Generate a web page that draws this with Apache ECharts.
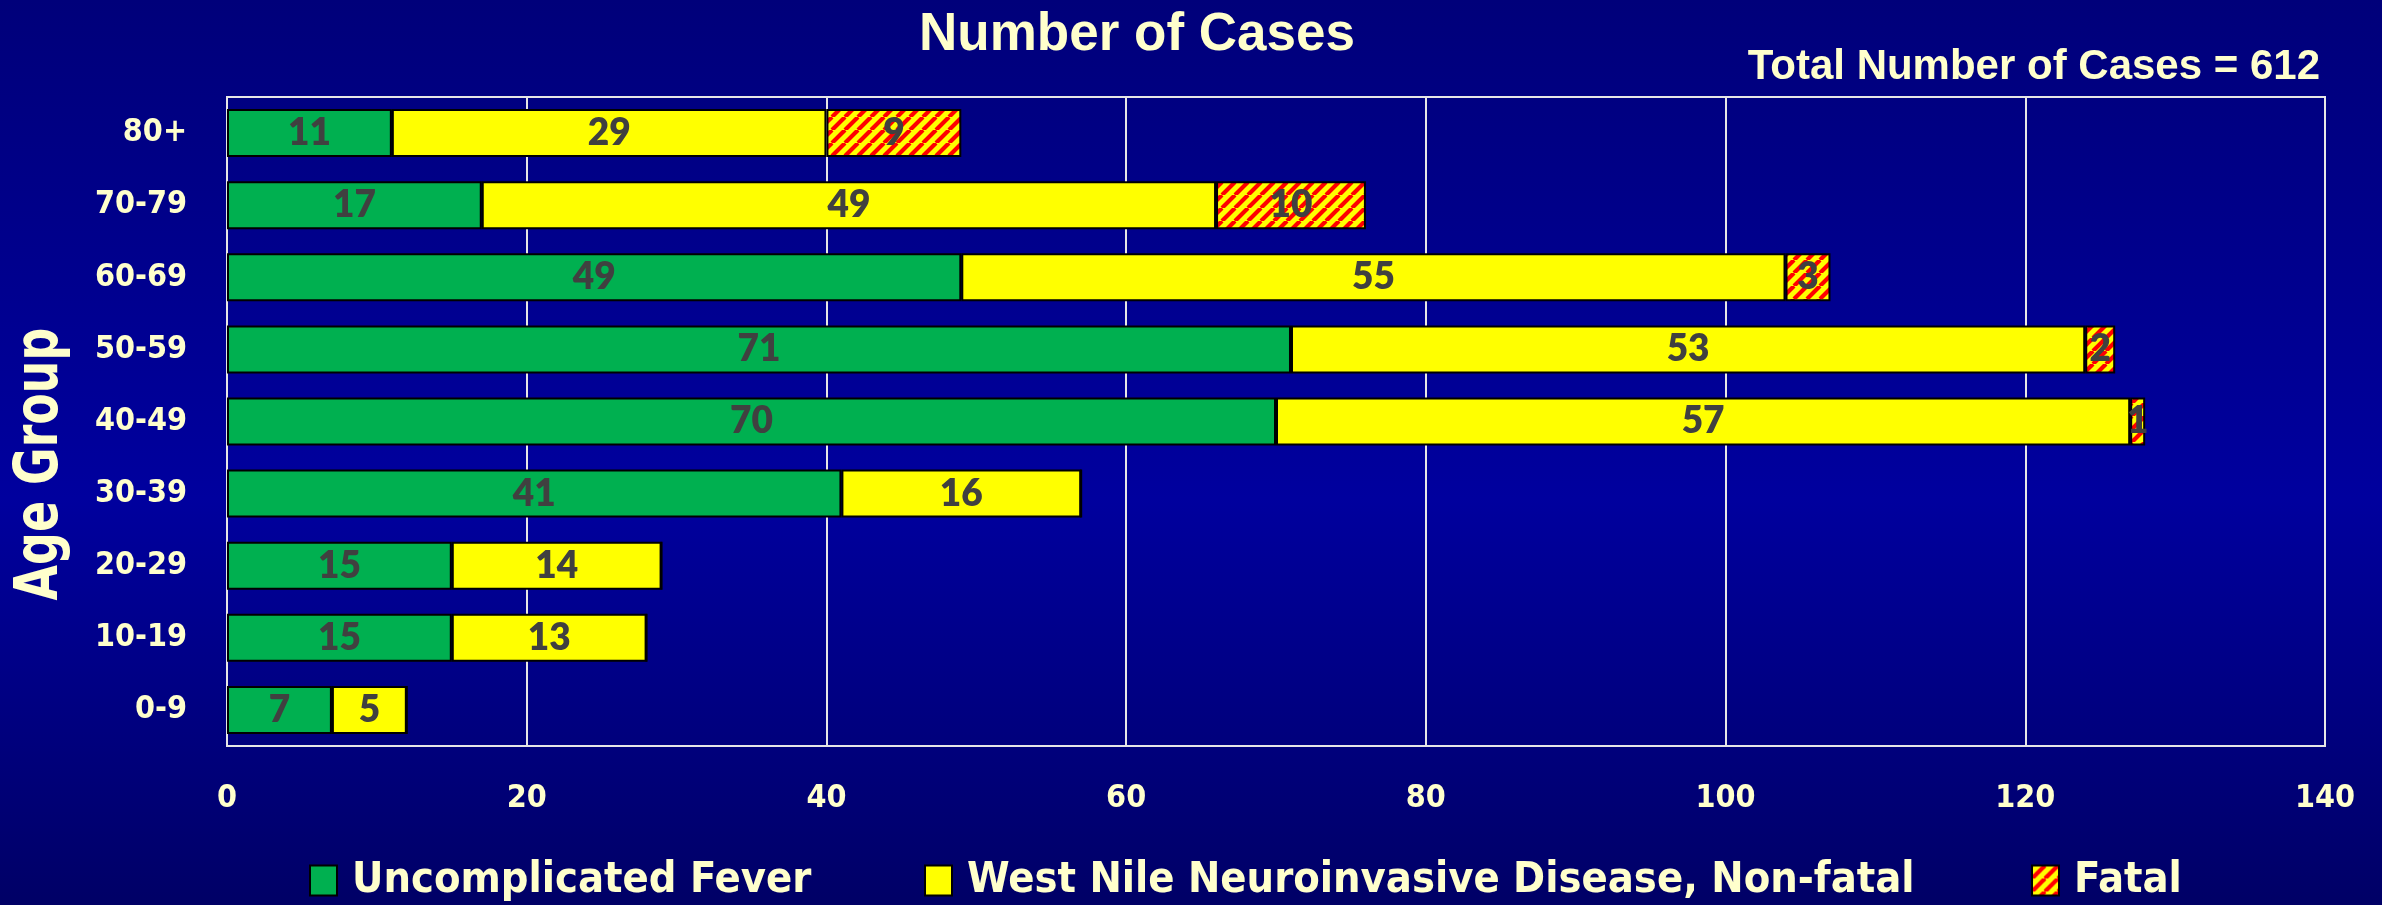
<!DOCTYPE html>
<html>
<head>
<meta charset="utf-8">
<script src="https://cdn.jsdelivr.net/npm/echarts@6/dist/echarts.min.js"></script>
<style>
html,body{margin:0;padding:0;background:#000080;}
#chart{width:2382px;height:905px;}
</style>
</head>
<body>
<div id="chart"></div>
<script>
// ---- data ----
const ageGroups = ['0-9','10-19','20-29','30-39','40-49','50-59','60-69','70-79','80+'];
const uncomplicatedFever = [7, 15, 15, 41, 70, 71, 49, 17, 11];
const wnndNonFatal = [5, 13, 14, 16, 57, 53, 55, 49, 29];
const fatal = [0, 0, 0, 0, 1, 2, 3, 10, 9];
const xTicks = [0, 20, 40, 60, 80, 100, 120, 140];
const seriesNames = ['Uncomplicated Fever', 'West Nile Neuroinvasive Disease, Non-fatal', 'Fatal'];
const titleText = 'Number of Cases';
const totalText = 'Total Number of Cases = 612';
const yAxisTitle = 'Age Group';

// ---- hatch pattern for Fatal ----
function makeHatch() {
  const s = 13;
  const c = document.createElement('canvas');
  c.width = s; c.height = s;
  const g = c.getContext('2d');
  g.fillStyle = '#ffff00';
  g.fillRect(0, 0, s, s);
  g.strokeStyle = '#ff0000';
  g.lineWidth = 4.2;
  g.beginPath();
  for (let k = -1; k <= 1; k++) {
    g.moveTo(k * s, s);
    g.lineTo(k * s + s, 0);
  }
  g.stroke();
  return c;
}
const hatch = { image: makeHatch(), repeat: 'repeat' };

const TXT = '#ffffcc';
const AXF = '"DejaVu Sans Condensed", "DejaVu Sans", sans-serif';
const labelStyle = {
  show: true,
  position: 'inside',
  fontFamily: 'Lato, "Open Sans", sans-serif',
  fontWeight: 800,
  fontSize: 37,
  color: '#404040',
  formatter: p => (p.value ? String(p.value) : '')
};
const barBorder = { borderColor: '#000000', borderWidth: 2 };

const chart = echarts.init(document.getElementById('chart'), null, { renderer: 'canvas' });

const legendCommon = {
  orient: 'horizontal',
  top: 854,
  itemWidth: 27,
  itemHeight: 30,
  icon: 'rect',
  textStyle: { color: TXT, fontFamily: AXF, fontWeight: 'bold', fontSize: 43, padding: [0, 0, 0, 10] },
  selectedMode: false
};

chart.setOption({
  backgroundColor: {
    type: 'linear', x: 0, y: 0, x2: 0, y2: 1,
    colorStops: [
      { offset: 0, color: '#00007a' },
      { offset: 0.55, color: '#00009e' },
      { offset: 1, color: '#000066' }
    ]
  },
  animation: false,
  title: [
    {
      text: titleText,
      left: 1132,
      textAlign: 'center',
      top: 4,
      textStyle: { color: TXT, fontFamily: '"Liberation Sans", Arial, sans-serif', fontWeight: 'bold', fontSize: 53 }
    },
    {
      text: totalText,
      right: 57,
      top: 41,
      textStyle: { color: TXT, fontFamily: '"Liberation Sans", Arial, sans-serif', fontWeight: 'bold', fontSize: 42 }
    }
  ],
  legend: [
    Object.assign({}, legendCommon, { left: 304, data: [seriesNames[0]] }),
    Object.assign({}, legendCommon, { left: 919, data: [seriesNames[1]] }),
    Object.assign({}, legendCommon, { left: 2026, data: [seriesNames[2]] })
  ],
  grid: {
    left: 227, right: 57, top: 97, bottom: 159,
    show: true,
    borderColor: '#e6e6e6',
    borderWidth: 2,
    backgroundColor: 'transparent'
  },
  xAxis: {
    type: 'value',
    min: xTicks[0],
    max: xTicks[xTicks.length - 1],
    interval: xTicks[1] - xTicks[0],
    axisLine: { show: false },
    axisTick: { show: false },
    splitLine: { show: true, lineStyle: { color: '#e6e6e6', width: 2 } },
    axisLabel: { color: TXT, fontFamily: AXF, fontWeight: 'bold', fontSize: 32, margin: 37 }
  },
  yAxis: {
    type: 'category',
    data: ageGroups,
    axisLine: { show: false },
    axisTick: { show: false },
    splitLine: { show: false },
    axisLabel: { color: TXT, fontFamily: AXF, fontWeight: 'bold', fontSize: 32, margin: 40 }
  },
  graphic: [
    {
      type: 'text',
      x: 41,
      y: 464,
      rotation: Math.PI / 2,
      scaleX: 0.85,
      style: {
        text: yAxisTitle,
        fill: TXT,
        font: 'bold 60px "DejaVu Sans Condensed", "DejaVu Sans", sans-serif',
        align: 'center',
        verticalAlign: 'middle'
      }
    }
  ],
  series: [
    {
      name: seriesNames[0], type: 'bar', stack: 'total', barWidth: 48,
      itemStyle: Object.assign({ color: '#00b050' }, barBorder),
      label: labelStyle,
      data: uncomplicatedFever
    },
    {
      name: seriesNames[1], type: 'bar', stack: 'total', barWidth: 48,
      itemStyle: Object.assign({ color: '#ffff00' }, barBorder),
      label: labelStyle,
      data: wnndNonFatal
    },
    {
      name: seriesNames[2], type: 'bar', stack: 'total', barWidth: 48,
      itemStyle: Object.assign({ color: hatch }, barBorder),
      label: labelStyle,
      data: fatal
    }
  ]
});
</script>
</body>
</html>
